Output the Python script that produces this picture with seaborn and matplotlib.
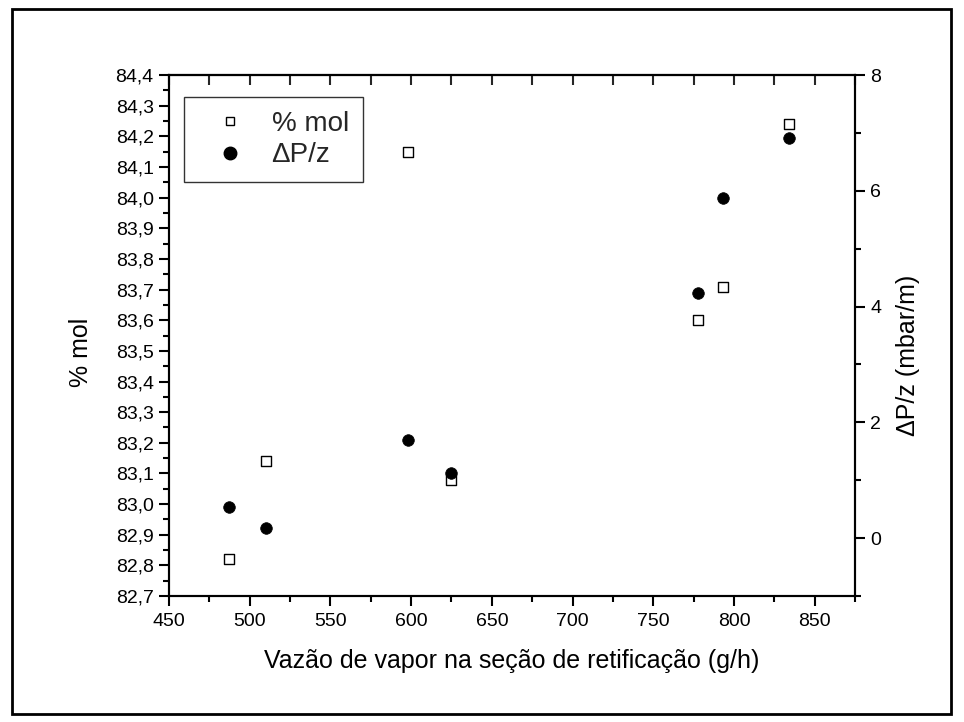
import matplotlib
matplotlib.use("Agg")
import matplotlib.pyplot as plt
import seaborn as sns
import pandas as pd
from matplotlib.ticker import MultipleLocator, FuncFormatter
from matplotlib.patches import Rectangle
from matplotlib.lines import Line2D

vazao = [487, 510, 598, 625, 778, 793, 834]
mol = [82.82, 83.14, 84.15, 83.08, 83.60, 83.71, 84.24]
dpz = [0.54, 0.17, 1.70, 1.13, 4.24, 5.87, 6.92]

sns.set_theme(style="white")
plt.rcParams['font.family'] = ['Liberation Sans', 'DejaVu Sans']

df = pd.DataFrame({"vazao": vazao, "mol": mol, "dpz": dpz})

fig = plt.figure(figsize=(9.64, 7.22), dpi=100)
ax = fig.add_axes([0.1753, 0.1745, 0.887 - 0.1753, 0.896 - 0.1745])
ax2 = ax.twinx()

sns.scatterplot(data=df, x="vazao", y="mol", ax=ax, marker="s", s=50,
                facecolor="white", edgecolor="black", linewidth=1.0, zorder=3)
sns.scatterplot(data=df, x="vazao", y="dpz", ax=ax2, marker="o", s=70,
                color="black", edgecolor="black", linewidth=0.5, zorder=3)

ax.set_xlim(450, 875)
ax.set_ylim(82.7, 84.4)
ax2.set_ylim(-1, 8)

for a in (ax, ax2):
    for sp in a.spines.values():
        sp.set_visible(True)
        sp.set_color("black")
        sp.set_linewidth(1.5)

ax.xaxis.set_major_locator(MultipleLocator(50))
ax.xaxis.set_minor_locator(MultipleLocator(25))
ax.yaxis.set_major_locator(MultipleLocator(0.1))
ax.yaxis.set_minor_locator(MultipleLocator(0.05))
ax2.yaxis.set_major_locator(MultipleLocator(2))
ax2.yaxis.set_minor_locator(MultipleLocator(1))

ax.yaxis.set_major_formatter(FuncFormatter(lambda v, p: f"{v:.1f}".replace(".", ",")))
ax.xaxis.set_major_formatter(FuncFormatter(lambda v, p: f"{v:.0f}"))

ax.tick_params(axis='x', which='both', direction='out', bottom=True, top=False, colors='black', labelsize=14)
ax.tick_params(axis='x', which='major', length=7, width=1.5, pad=5)
ax.tick_params(axis='x', which='minor', length=4, width=1.5)
ax.tick_params(axis='y', which='both', direction='out', left=True, right=False, colors='black', labelsize=14)
ax.tick_params(axis='y', which='major', length=7, width=1.5, pad=4)
ax.tick_params(axis='y', which='minor', length=4, width=1.5)
ax2.tick_params(axis='y', which='both', direction='out', right=True, left=False, colors='black', labelsize=14)
ax2.tick_params(axis='y', which='major', length=7, width=1.5, pad=4)
ax2.tick_params(axis='y', which='minor', length=4, width=1.5)

top = ax.secondary_xaxis('top')
top.xaxis.set_major_locator(MultipleLocator(50))
top.xaxis.set_minor_locator(MultipleLocator(25))
top.tick_params(axis='x', which='both', direction='in', length=7, width=1.5, labeltop=False)
top.spines['top'].set_linewidth(1.5)

ax.set_xlabel("Vazão de vapor na seção de retificação (g/h)", fontsize=18, color="black", labelpad=14)
ax.set_ylabel("% mol", fontsize=18, color="black")
ax.yaxis.set_label_coords(-0.111, 0.468)
ax2.set_ylabel("ΔP/z (mbar/m)", fontsize=18, color="black")
ax2.yaxis.set_label_coords(1.060, 0.461)

handles = [
    Line2D([], [], linestyle='none', marker='s', markersize=6, markerfacecolor='white',
           markeredgecolor='black', markeredgewidth=1.0),
    Line2D([], [], linestyle='none', marker='o', markersize=9, markerfacecolor='black',
           markeredgecolor='black'),
]
leg = ax.legend(handles, ["% mol", "ΔP/z"], loc='upper left', bbox_to_anchor=(0.022, 0.958),
                borderaxespad=0, fontsize=20, frameon=True, fancybox=False, edgecolor='black',
                borderpad=0.5, handletextpad=0.35, labelspacing=0.2, handlelength=2.3)
leg.get_frame().set_linewidth(1.0)
leg.set_zorder(10)

fig.patches.append(Rectangle((0.012, 0.011), 0.975, 0.977, transform=fig.transFigure,
                             fill=False, edgecolor='black', linewidth=2))

fig.savefig("out.png", dpi=100, facecolor="white")
